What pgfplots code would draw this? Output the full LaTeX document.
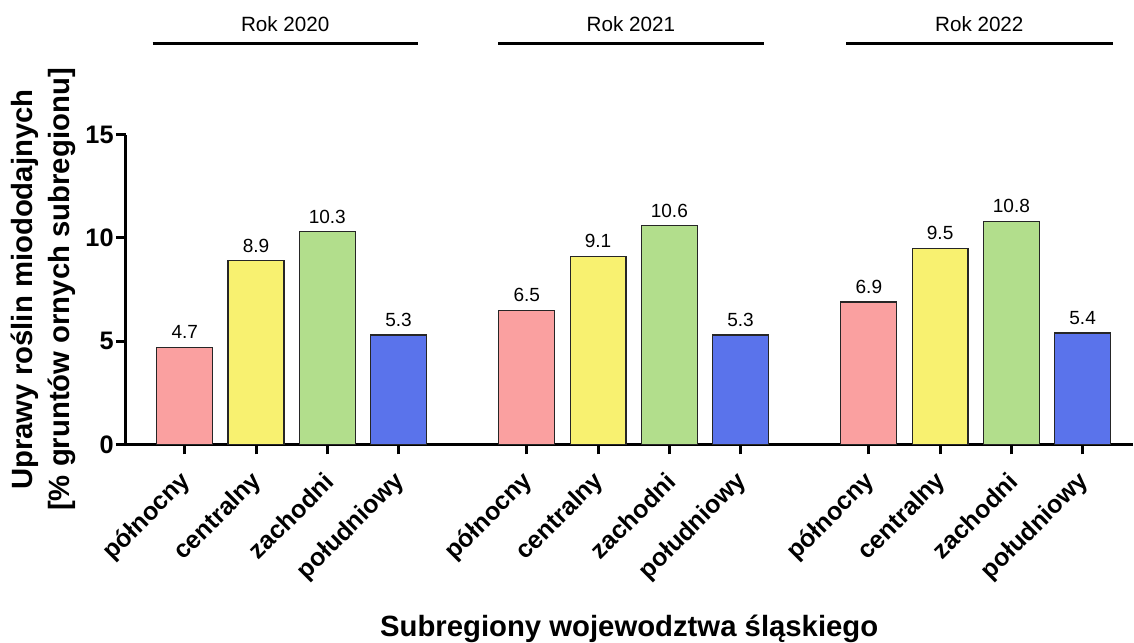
\documentclass[border=0pt]{standalone}
\usepackage{pgfplots}
\pgfplotsset{compat=1.18}
\usepackage{fontspec}
\setmainfont{Liberation Sans}

\definecolor{cpink}{RGB}{250,160,160}
\definecolor{cyellow}{RGB}{248,241,112}
\definecolor{cgreen}{RGB}{178,222,140}
\definecolor{cblue}{RGB}{90,115,235}

\begin{document}
\begin{tikzpicture}
\begin{axis}[
    scale only axis,
    width=756pt, height=232.5pt,
    xmin=-0.827, xmax=13.30,
    ymin=0, ymax=15,
    axis x line=bottom, axis y line=left,
    axis line style={-, line width=2.25pt},
    x axis line style={shorten <=-7.5pt},
    tick align=outside,
    major tick length=7.5pt,
    tick style={line width=2.25pt, black},
    ytick={0,5,10,15},
    xtick={0,1,2,3,4.8,5.8,6.8,7.8,9.6,10.6,11.6,12.6},
    xticklabels={północny,centralny,zachodni,południowy,
                 północny,centralny,zachodni,południowy,
                 północny,centralny,zachodni,południowy},
    /pgf/number format/assume math mode=true,
    yticklabel style={font=\fontsize{19}{22}\selectfont\bfseries, inner sep=1.5pt},
    % shifts are applied in the rotated frame
    xticklabel style={font=\fontsize{18.8}{21}\selectfont\bfseries,
                      rotate=45, anchor=east, xshift=-7.8pt, yshift=-13.4pt},
    ylabel={Uprawy roślin miododajnych\\{}[\% gruntów ornych subregionu]},
    ylabel style={font=\fontsize{22}{27.5}\selectfont\bfseries, align=center,
                  at={(axis description cs:0,0.5)}, anchor=center,
                  yshift=62pt, inner sep=0pt},
    xlabel={Subregiony wojewodztwa śląskiego},
    xlabel style={font=\fontsize{22}{26}\selectfont\bfseries,
                  at={(axis description cs:0.5,0)}, anchor=base,
                  yshift=-144pt, inner sep=0pt, text depth=0pt},
    ybar, bar width=42pt, bar shift=0pt,
    every axis plot/.append style={draw=black!85, line width=0.9pt},
    nodes near coords,
    nodes near coords style={font=\fontsize{14.3}{16}\selectfont, black,
        /pgf/number format/fixed, /pgf/number format/precision=1,
        /pgf/number format/fixed zerofill, yshift=2.5pt},
    clip=false,
]
\addplot[fill=cpink] coordinates {(0,4.7) (4.8,6.5) (9.6,6.9)};
\addplot[fill=cyellow] coordinates {(1,8.9) (5.8,9.1) (10.6,9.5)};
\addplot[fill=cgreen] coordinates {(2,10.3) (6.8,10.6) (11.6,10.8)};
\addplot[fill=cblue] coordinates {(3,5.3) (7.8,5.3) (12.6,5.4)};

% group brackets above the bars
\draw[line width=2.5pt] (axis cs:-0.45,19.43) -- (axis cs:3.28,19.43);
\draw[line width=2.5pt] (axis cs:4.40,19.43) -- (axis cs:8.13,19.43);
\draw[line width=2.5pt] (axis cs:9.28,19.43) -- (axis cs:13.02,19.43);
\node[font=\fontsize{15.5}{18}\selectfont, anchor=base, inner sep=0pt] at (axis cs:1.41,19.98) {Rok 2020};
\node[font=\fontsize{15.5}{18}\selectfont, anchor=base, inner sep=0pt] at (axis cs:6.26,19.98) {Rok 2021};
\node[font=\fontsize{15.5}{18}\selectfont, anchor=base, inner sep=0pt] at (axis cs:11.15,19.98) {Rok 2022};
% page frame
\path (axis cs:-2.593,-9.58) (axis cs:13.30,21.53);
\end{axis}
\end{tikzpicture}
\end{document}
